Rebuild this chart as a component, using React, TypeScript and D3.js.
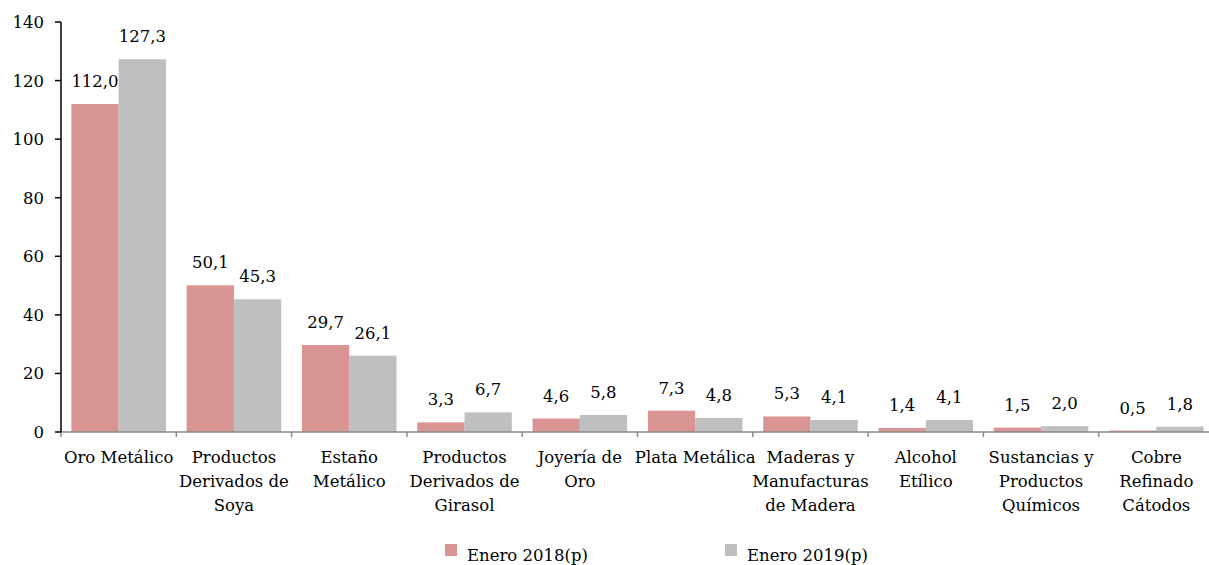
import React from "react";
import * as d3 from "d3";

const categories: string[][] = [
  ["Oro Metálico"],
  ["Productos", "Derivados de", "Soya"],
  ["Estaño", "Metálico"],
  ["Productos", "Derivados de", "Girasol"],
  ["Joyería de", "Oro"],
  ["Plata Metálica"],
  ["Maderas y", "Manufacturas", "de Madera"],
  ["Alcohol", "Etílico"],
  ["Sustancias y", "Productos", "Químicos"],
  ["Cobre", "Refinado", "Cátodos"],
];
const serie2018: number[] = [112.0, 50.1, 29.7, 3.3, 4.6, 7.3, 5.3, 1.4, 1.5, 0.5];
const serie2019: number[] = [127.3, 45.3, 26.1, 6.7, 5.8, 4.8, 4.1, 4.1, 2.0, 1.8];
const seriesNames: string[] = ["Enero 2018(p)", "Enero 2019(p)"];
const yTicks: number[] = [0, 20, 40, 60, 80, 100, 120, 140];

const COLORS = ["#D99594", "#BFBFBF"];
const FONT = "'DejaVu Serif', serif";

export default function App() {
  const W = 1209, H = 565;
  const left = 61, right = 1214, top = 22, bottom = 432;
  const x = d3.scaleBand<number>().domain(d3.range(categories.length)).range([left, right]).padding(0);
  const y = d3.scaleLinear().domain([0, 140]).range([bottom, top]);
  const bw = x.bandwidth();
  const barW = bw * 0.41;
  const offset = (bw - 2 * barW) / 2;
  const fmt = (v: number) => v.toFixed(1).replace(".", ",");
  const series = [serie2018, serie2019];
  const fs = 16.5;

  return (
    <svg width={W} height={H} style={{ position: "absolute", left: 0, top: 0, fontFamily: FONT }}>
      <rect width={W} height={H} fill="#fff" />
      {series.map((s, si) =>
        s.map((v, i) => {
          const bx = (x(i) as number) + offset + si * barW;
          return (
            <g key={`${si}-${i}`}>
              <rect x={bx} y={y(v)} width={barW} height={bottom - y(v)} fill={COLORS[si]} />
              <text x={bx + barW / 2} y={y(v) - 17} textAnchor="middle" fontSize={fs} fill="#000" style={{ fontFamily: FONT }}>
                {fmt(v)}
              </text>
            </g>
          );
        })
      )}
      {/* x axis */}
      <line x1={left} x2={right} y1={bottom} y2={bottom} stroke="#898989" strokeWidth={1.5} />
      {d3.range(categories.length + 1).map((i) => {
        const tx = i < categories.length ? (x(i) as number) : right;
        return <line key={i} x1={tx} x2={tx} y1={bottom} y2={bottom + 5} stroke="#898989" strokeWidth={1.5} />;
      })}
      {categories.map((lines, i) => (
        <text key={i} textAnchor="middle" fontSize={fs} fill="#000" style={{ fontFamily: FONT }}>
          {lines.map((ln, j) => (
            <tspan key={j} x={(x(i) as number) + bw / 2} y={463 + j * 24}>
              {ln}
            </tspan>
          ))}
        </text>
      ))}
      {/* y axis */}
      <line x1={left} x2={left} y1={top} y2={bottom} stroke="#000" strokeWidth={1.5} />
      {yTicks.map((t) => (
        <g key={t}>
          <line x1={left - 6} x2={left} y1={y(t)} y2={y(t)} stroke="#000" strokeWidth={1.5} />
          <text x={44} y={y(t) + 6} textAnchor="end" fontSize={fs} fill="#000" style={{ fontFamily: FONT }}>
            {t}
          </text>
        </g>
      ))}
      {/* legend */}
      {seriesNames.map((n, i) => {
        const lx = 445 + i * 280;
        return (
          <g key={n}>
            <rect x={lx} y={544} width={12} height={12} fill={COLORS[i]} />
            <text x={lx + 22} y={561} fontSize={fs} fill="#000" style={{ fontFamily: FONT }}>
              {n}
            </text>
          </g>
        );
      })}
    </svg>
  );
}
